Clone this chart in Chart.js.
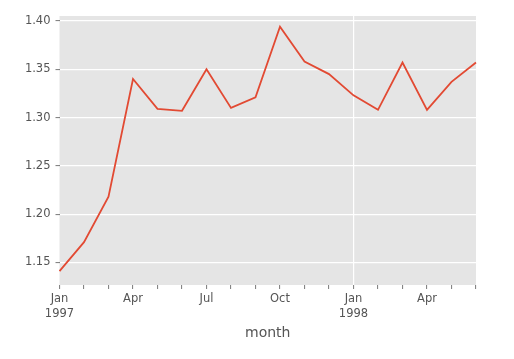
<!DOCTYPE html>
<html>
<head>
<meta charset="utf-8">
<script src="https://cdn.jsdelivr.net/npm/chart.js@4"></script>
<style>
  html, body { margin: 0; padding: 0; background: #ffffff; }
  #wrap { width: 514px; height: 359px; position: relative; }
</style>
</head>
<body>
<div id="wrap"><canvas id="c" width="514" height="359"></canvas></div>
<script>
const categories = ['1997-01','1997-02','1997-03','1997-04','1997-05','1997-06','1997-07','1997-08','1997-09','1997-10','1997-11','1997-12','1998-01','1998-02','1998-03','1998-04','1998-05','1998-06'];
const values = [1.141, 1.171, 1.218, 1.340, 1.309, 1.307, 1.350, 1.310, 1.321, 1.394, 1.358, 1.345, 1.323, 1.308, 1.357, 1.308, 1.337, 1.357];
const xTickLabels = [['Jan','1997'],'','','Apr','','','Jul','','','Oct','','',['Jan','1998'],'','','Apr','',''];
const majorTickIndexes = [12];
const yTicks = [1.15, 1.20, 1.25, 1.30, 1.35, 1.40];
const yMin = 1.1266, yMax = 1.4052;
const xTitle = 'month';

const plotBg = {
  id: 'plotBg',
  beforeDraw(chart) {
    const {ctx, chartArea: a} = chart;
    ctx.save();
    ctx.fillStyle = '#E5E5E5';
    ctx.fillRect(a.left, a.top, a.right - a.left, a.bottom - a.top);
    ctx.restore();
  }
};

new Chart(document.getElementById('c'), {
  type: 'line',
  data: {
    labels: categories,
    datasets: [{
      data: values,
      borderColor: '#E24A33',
      borderWidth: 1.8,
      pointRadius: 0,
      tension: 0,
      fill: false
    }]
  },
  options: {
    responsive: false,
    animation: false,
    layout: { padding: { left: 0, right: 38, top: 16, bottom: 0 } },
    plugins: { legend: { display: false }, tooltip: { enabled: false } },
    scales: {
      x: {
        type: 'category',
        offset: false,
        border: { display: false },
        grid: {
          color: (c) => majorTickIndexes.includes(c.index) ? '#FFFFFF' : 'rgba(0,0,0,0)',
          lineWidth: 1.2,
          drawTicks: true,
          tickLength: 4,
          tickColor: '#555555',
          tickWidth: 0.8
        },
        ticks: {
          autoSkip: false,
          maxRotation: 0,
          color: '#555555',
          padding: 3,
          font: { family: 'DejaVu Sans', size: 11.5, lineHeight: 1.3 },
          callback: (v, i) => xTickLabels[i]
        },
        title: {
          display: true,
          text: xTitle,
          color: '#555555',
          font: { family: 'DejaVu Sans', size: 14 },
          padding: { top: 0, bottom: 17 }
        },
        afterFit: (s) => { s.height = 74; }
      },
      y: {
        min: yMin,
        max: yMax,
        border: { display: false },
        afterBuildTicks: (s) => { s.ticks = yTicks.map(v => ({ value: v })); },
        grid: {
          color: '#FFFFFF',
          lineWidth: 1.2,
          drawTicks: true,
          tickLength: 4,
          tickColor: '#555555',
          tickWidth: 0.8
        },
        ticks: {
          color: '#555555',
          padding: 5,
          font: { family: 'DejaVu Sans', size: 11.5 },
          callback: (v) => Number(v).toFixed(2)
        },
        afterFit: (s) => { s.width = 59.5; }
      }
    }
  },
  plugins: [plotBg]
});
</script>
</body>
</html>
